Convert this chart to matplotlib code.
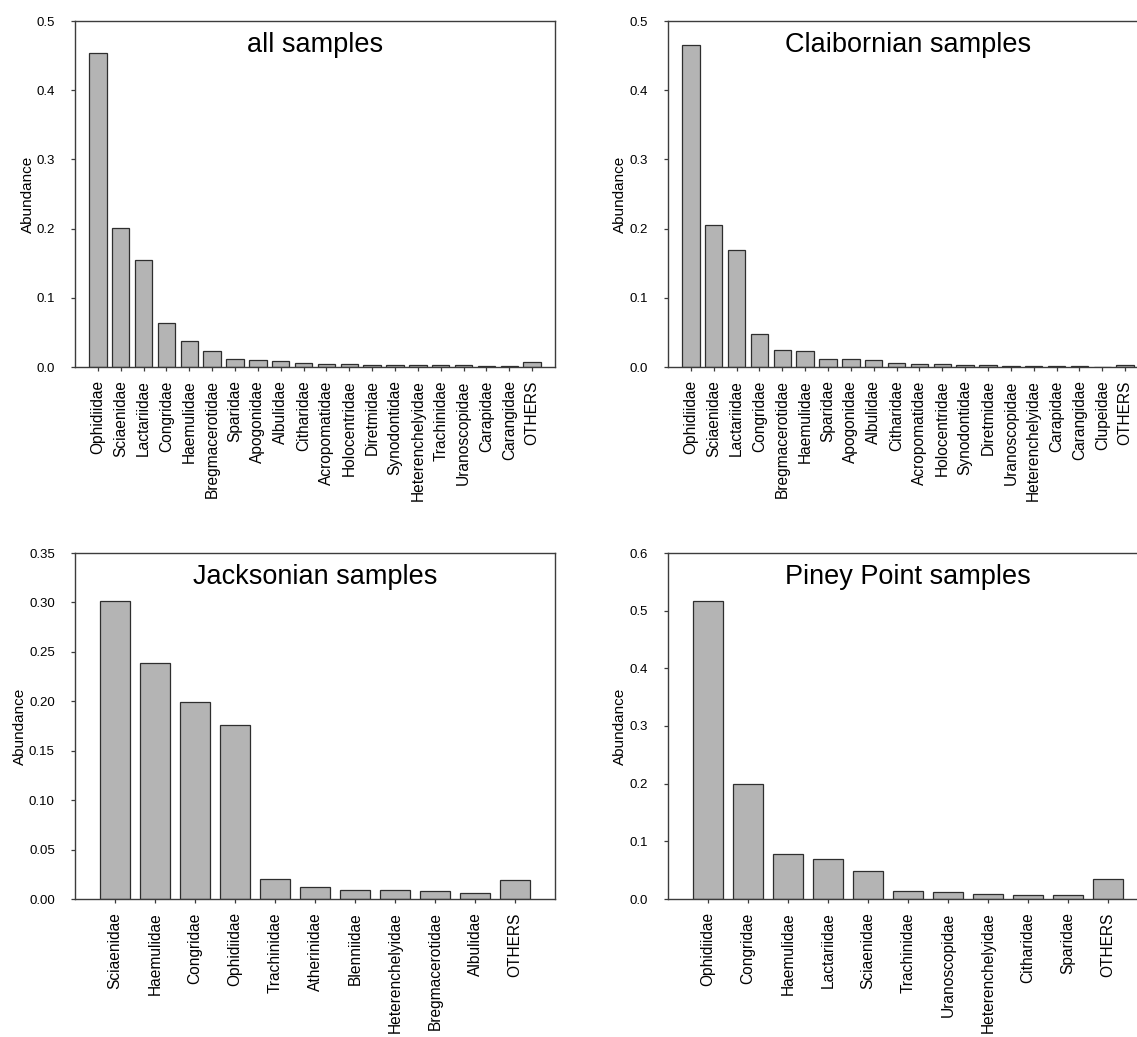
import matplotlib
matplotlib.use("Agg")
import matplotlib.pyplot as plt

plt.rcParams['font.family'] = ['Liberation Sans', 'DejaVu Sans']

# all samples
all_families = ['Ophidiidae', 'Sciaenidae', 'Lactariidae', 'Congridae', 'Haemulidae',
                'Bregmacerotidae', 'Sparidae', 'Apogonidae', 'Albulidae', 'Citharidae',
                'Acropomatidae', 'Holocentridae', 'Diretmidae', 'Synodontidae',
                'Heterenchelyidae', 'Trachinidae', 'Uranoscopidae', 'Carapidae',
                'Carangidae', 'OTHERS']
all_values = [0.454, 0.201, 0.155, 0.063, 0.037, 0.023, 0.012, 0.0106, 0.009, 0.006,
              0.0045, 0.0045, 0.003, 0.003, 0.0025, 0.0025, 0.0025, 0.001, 0.001, 0.0068]

# Claibornian samples
clai_families = ['Ophidiidae', 'Sciaenidae', 'Lactariidae', 'Congridae', 'Bregmacerotidae',
                 'Haemulidae', 'Sparidae', 'Apogonidae', 'Albulidae', 'Citharidae',
                 'Acropomatidae', 'Holocentridae', 'Synodontidae', 'Diretmidae',
                 'Uranoscopidae', 'Heterenchelyidae', 'Carapidae', 'Carangidae',
                 'Clupeidae', 'OTHERS']
clai_values = [0.465, 0.205, 0.169, 0.047, 0.025, 0.0236, 0.012, 0.0116, 0.0096, 0.006,
               0.005, 0.0045, 0.003, 0.0025, 0.002, 0.0015, 0.0015, 0.001, 0.0, 0.0035]

# Jacksonian samples
jack_families = ['Sciaenidae', 'Haemulidae', 'Congridae', 'Ophidiidae', 'Trachinidae',
                 'Atherinidae', 'Blenniidae', 'Heterenchelyidae', 'Bregmacerotidae',
                 'Albulidae', 'OTHERS']
jack_values = [0.301, 0.239, 0.1995, 0.176, 0.020, 0.012, 0.009, 0.009, 0.008, 0.006, 0.019]

# Piney Point samples
piney_families = ['Ophidiidae', 'Congridae', 'Haemulidae', 'Lactariidae', 'Sciaenidae',
                  'Trachinidae', 'Uranoscopidae', 'Heterenchelyidae', 'Citharidae',
                  'Sparidae', 'OTHERS']
piney_values = [0.517, 0.199, 0.0775, 0.069, 0.049, 0.0145, 0.012, 0.0087, 0.0075,
                0.0075, 0.0347]

W, H = 1137, 1037
fig = plt.figure(figsize=(W / 100, H / 100), dpi=100)

spine_col = '#3c3c3c'


def panel(rect_px, names, vals, title, ymax, yticks, yfmt, label_off):
    left, top, width, height = rect_px
    ax = fig.add_axes([left / W, (H - top - height) / H, width / W, height / H])
    x = list(range(len(names)))
    ax.bar(x, vals, width=0.76, color='#b4b4b4', edgecolor='#2e2e2e', linewidth=0.9)
    ax.set_xlim(-1, len(names))
    ax.set_ylim(0, ymax)
    ax.set_xticks(x)
    ax.set_xticklabels(names, rotation=90, fontsize=11.2)
    ax.set_yticks(yticks)
    ax.set_yticklabels([yfmt.format(v) for v in yticks], fontsize=9.5)
    ax.tick_params(axis='x', direction='out', length=3, width=0.9, color=spine_col, pad=6.5)
    ax.tick_params(axis='y', direction='out', length=3, width=0.9, color=spine_col, pad=11.5)
    for s in ax.spines.values():
        s.set_color(spine_col)
        s.set_linewidth(1.0)
    ax.set_ylabel('Abundance', fontsize=11)
    ax.yaxis.set_label_coords(-label_off / width, 0.5)
    ax.text(0.5, 0.93, title, transform=ax.transAxes, ha='center', va='center',
            fontsize=19.5)
    return ax


panel((75, 21, 480, 346), all_families, all_values, 'all samples',
      0.5, [0.0, 0.1, 0.2, 0.3, 0.4, 0.5], '{:.1f}', 40)
panel((668, 21, 480, 346), clai_families, clai_values, 'Claibornian samples',
      0.5, [0.0, 0.1, 0.2, 0.3, 0.4, 0.5], '{:.1f}', 41)
panel((75, 553, 480, 346), jack_families, jack_values, 'Jacksonian samples',
      0.35, [0.0, 0.05, 0.10, 0.15, 0.20, 0.25, 0.30, 0.35], '{:.2f}', 48)
panel((668, 553, 480, 346), piney_families, piney_values, 'Piney Point samples',
      0.6, [0.0, 0.1, 0.2, 0.3, 0.4, 0.5, 0.6], '{:.1f}', 41)

fig.savefig('out.png', dpi=100)
